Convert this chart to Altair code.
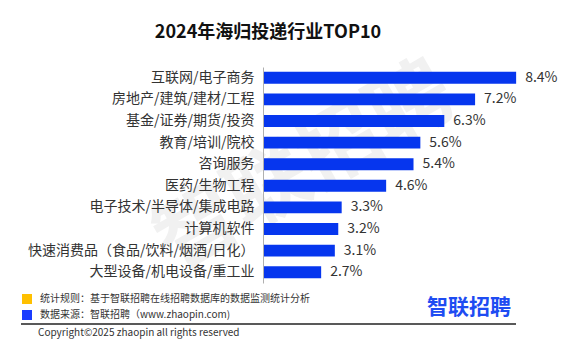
import altair as alt
import pandas as pd

categories = [
    "互联网/电子商务",
    "房地产/建筑/建材/工程",
    "基金/证券/期货/投资",
    "教育/培训/院校",
    "咨询服务",
    "医药/生物工程",
    "电子技术/半导体/集成电路",
    "计算机软件",
    "快速消费品（食品/饮料/烟酒/日化）",
    "大型设备/机电设备/重工业",
]
values = [8.4, 7.2, 6.3, 5.6, 5.4, 4.6, 3.3, 3.2, 3.1, 2.7]
value_labels = ["8.4%", "7.2%", "6.3%", "5.6%", "5.4%", "4.6%", "3.3%", "3.2%", "3.1%", "2.7%"]
axis_start = 1.0

title_text = "2024年海归投递行业TOP10"
note_rule = "统计规则：基于智联招聘在线招聘数据库的数据监测统计分析"
note_source = "数据来源：智联招聘（www.zhaopin.com)"
copyright_text = "Copyright©2025 zhaopin all rights reserved"
logo_text = "智联招聘"

FONT = "Noto Sans CJK SC"
BLUE = "#0636ee"

df = pd.DataFrame({
    "category": categories,
    "value": values,
    "label": value_labels,
    "base": [axis_start] * len(values),
})

# plot origin in canvas: (263, 67)
OX, OY = 263, 67

xscale = alt.Scale(domain=[axis_start, 9.77], nice=False, zero=False)
yenc = alt.Y(
    "category:N",
    sort=categories,
    scale=alt.Scale(paddingInner=0.45, paddingOuter=0.225),
    axis=alt.Axis(
        title=None, ticks=False, labelFontSize=14, labelPadding=9,
        labelColor="#333333", labelFont=FONT, labelLimit=320,
        domainColor="#b0b0b0", domainWidth=1, grid=False, zindex=1,
    ),
)

one = pd.DataFrame({"k": [0]})

watermark = alt.Chart(one).mark_text(
    text="智联招聘", font=FONT, fontSize=82, fontWeight="bold",
    color="#f1f1f1", angle=330, align="center", baseline="middle",
).encode(x=alt.value(305 - OX), y=alt.value(168 - OY))

bars = alt.Chart(df).mark_bar(color=BLUE).encode(
    x=alt.X("base:Q", scale=xscale, axis=None),
    x2="value:Q",
    y=yenc,
)

vlabels = alt.Chart(df).mark_text(
    align="left", baseline="middle", dx=9, fontSize=14, font=FONT, color="#333333",
).encode(
    x=alt.X("value:Q", scale=xscale, axis=None),
    y=alt.Y("category:N", sort=categories),
    text="label:N",
)

title = alt.Chart(one).mark_text(
    text=title_text, font=FONT, fontSize=18, fontWeight="bold", color="#111111",
    align="center", baseline="middle",
).encode(x=alt.value(268 - OX), y=alt.value(33 - OY))

sq_yellow = alt.Chart(one).mark_rect(color="#ffc000").encode(
    x=alt.value(22 - OX), x2=alt.value(32 - OX), y=alt.value(294 - OY), y2=alt.value(304 - OY)
)
sq_blue = alt.Chart(one).mark_rect(color="#1a3cff").encode(
    x=alt.value(22 - OX), x2=alt.value(32 - OX), y=alt.value(310 - OY), y2=alt.value(320 - OY)
)

t_rule = alt.Chart(one).mark_text(
    text=note_rule, font=FONT, fontSize=10, color="#333333", align="left", baseline="middle",
).encode(x=alt.value(40 - OX), y=alt.value(299 - OY))
t_source = alt.Chart(one).mark_text(
    text=note_source, font=FONT, fontSize=10, color="#333333", align="left", baseline="middle",
).encode(x=alt.value(40 - OX), y=alt.value(315 - OY))

hline = alt.Chart(one).mark_rule(color="#222222", strokeWidth=1.3).encode(
    x=alt.value(21 - OX), x2=alt.value(516 - OX), y=alt.value(324 - OY)
)

t_copy = alt.Chart(one).mark_text(
    text=copyright_text, font=FONT, fontSize=10, color="#333333", align="left", baseline="middle",
).encode(x=alt.value(38 - OX), y=alt.value(333 - OY))

logo = alt.Chart(one).mark_text(
    text=logo_text, font=FONT, fontSize=21, fontWeight="bold", color="#1e4cf2",
    align="left", baseline="middle",
).encode(x=alt.value(427 - OX), y=alt.value(308 - OY))

chart = alt.layer(
    watermark, bars, vlabels, title, sq_yellow, sq_blue, t_rule, t_source, hline, t_copy, logo
).properties(
    width=300,
    height=216,
    autosize=alt.AutoSizeParams(type="none"),
    padding={"left": OX, "top": OY, "right": 565 - OX - 300, "bottom": 344 - OY - 216},
    background="white",
).configure_view(stroke=None)

chart.save("out.html", embed_options={"renderer": "svg", "actions": False})
